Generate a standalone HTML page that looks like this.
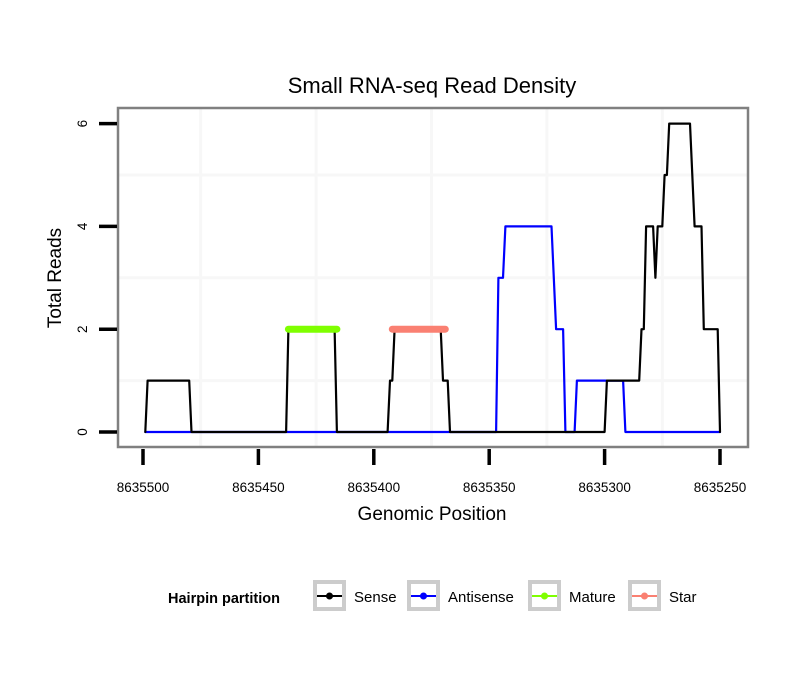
<!DOCTYPE html>
<html><head><meta charset="utf-8"><style>
body{margin:0;background:#fff;}
svg text{font-family:"Liberation Sans",sans-serif;}
</style></head><body>
<svg width="810" height="690" xmlns="http://www.w3.org/2000/svg">
<rect width="810" height="690" fill="#fff"/>
<text x="432" y="93" font-size="22" text-anchor="middle">Small RNA-seq Read Density</text>
<g id="grid"></g>
<g id="series"></g>
<rect x="118" y="108" width="630" height="339" fill="none" stroke="#808080" stroke-width="2.5"/>
<g id="axes"></g>
<text x="432" y="520" font-size="19" text-anchor="middle">Genomic Position</text>
<text transform="translate(61,278) rotate(-90)" font-size="19" text-anchor="middle">Total Reads</text>
<g>
<text x="168" y="603" font-size="14.5" font-weight="bold">Hairpin partition</text>
<g id="legend"></g>
</g>
</svg>
<script>
const xTicks=[8635500,8635450,8635400,8635350,8635300,8635250];
const yTicks=[0,2,4,6];
const sensePos=[8635499,8635498,8635480,8635479,8635438,8635437,8635417,8635416,8635394,8635393,8635392,8635391,8635371,8635370,8635368,8635367,8635300,8635299,8635285,8635284,8635283,8635282,8635279,8635278,8635277,8635275,8635274,8635273,8635272,8635263,8635261,8635258,8635257,8635251,8635250];
const senseVal=[0,1,1,0,0,2,2,0,0,1,1,2,2,1,1,0,0,1,1,2,2,4,4,3,4,4,5,5,6,6,4,4,2,2,0];
const antiPos=[8635499,8635347,8635346,8635344,8635343,8635323,8635321,8635318,8635317,8635313,8635312,8635292,8635291,8635250];
const antiVal=[0,0,3,3,4,4,2,2,0,0,1,1,0,0];
const maturePos=[8635437,8635416];
const matureVal=[2,2];
const starPos=[8635392,8635369];
const starVal=[2,2];
const X=p=>143+(8635500-p)*2.308;
const Y=v=>432-v*51.4;
const NS="http://www.w3.org/2000/svg";
function mk(tag,attrs,parent){const e=document.createElementNS(NS,tag);for(const k in attrs)e.setAttribute(k,attrs[k]);parent.appendChild(e);return e;}
const grid=document.getElementById('grid'),axes=document.getElementById('axes'),series=document.getElementById('series');
for(let i=0;i<xTicks.length-1;i++){const gx=X((xTicks[i]+xTicks[i+1])/2);
 const l=mk('line',{x1:gx,x2:gx,y1:109,y2:446,stroke:'#f7f7f7','stroke-width':3},grid);
 
 }
for(let i=0;i<yTicks.length-1;i++){const gy=Y((yTicks[i]+yTicks[i+1])/2);
 const l=mk('line',{x1:119,x2:747,y1:gy,y2:gy,stroke:'#f7f7f7','stroke-width':3},grid);
 
 }
xTicks.forEach(t=>{const x=X(t);
 const l=mk('line',{x1:x,x2:x,y1:449,y2:465,stroke:'#000','stroke-width':3.5},axes);
 
 
 const tx=mk('text',{x:x,y:492,'font-size':13.5,'text-anchor':'middle'},axes);tx.textContent=t;
 
 });
yTicks.forEach(t=>{const y=Y(t);
 const l=mk('line',{x1:99,x2:117,y1:y,y2:y,stroke:'#000','stroke-width':3.5},axes);
 
 
 const tx=mk('text',{transform:`translate(87,${y}) rotate(-90)`,'font-size':13.5,'text-anchor':'middle'},axes);tx.textContent=t;
 
 });
function line(pos,val,color,w,name){const d=pos.map((p,i)=>(i?'L':'M')+X(p).toFixed(1)+','+Y(val[i]).toFixed(1)).join('');
 const p=mk('path',{d:d,fill:'none',stroke:color,'stroke-width':w,'stroke-linecap':'round','stroke-linejoin':'round'},series);
 
 }
line(antiPos,antiVal,'#0000ff',2.2,'antisense-line');
line(sensePos,senseVal,'#000',2.2,'sense-line');
line(maturePos,matureVal,'#7fff00',7,'mature-line');
line(starPos,starVal,'#fa8072',7,'star-line');
const leg=document.getElementById('legend');
const legItems=[['Sense','#000',313],['Antisense','#0000ff',407],['Mature','#7fff00',528],['Star','#fa8072',628]];
legItems.forEach(([n,c,x])=>{
 const r=mk('rect',{x:x+2,y:582,width:29,height:27,fill:'#fff',stroke:'#cccccc','stroke-width':4},leg);
 
 
 mk('line',{x1:x+4,x2:x+29,y1:596,y2:596,stroke:c,'stroke-width':2},leg);
 mk('circle',{cx:x+16.5,cy:596,r:3.5,fill:c},leg);
 const t=mk('text',{x:x+41,y:602,'font-size':15,'textLength':0},leg);t.textContent=n;
 t.removeAttribute('textLength');
 
 });
</script>
</body></html>
